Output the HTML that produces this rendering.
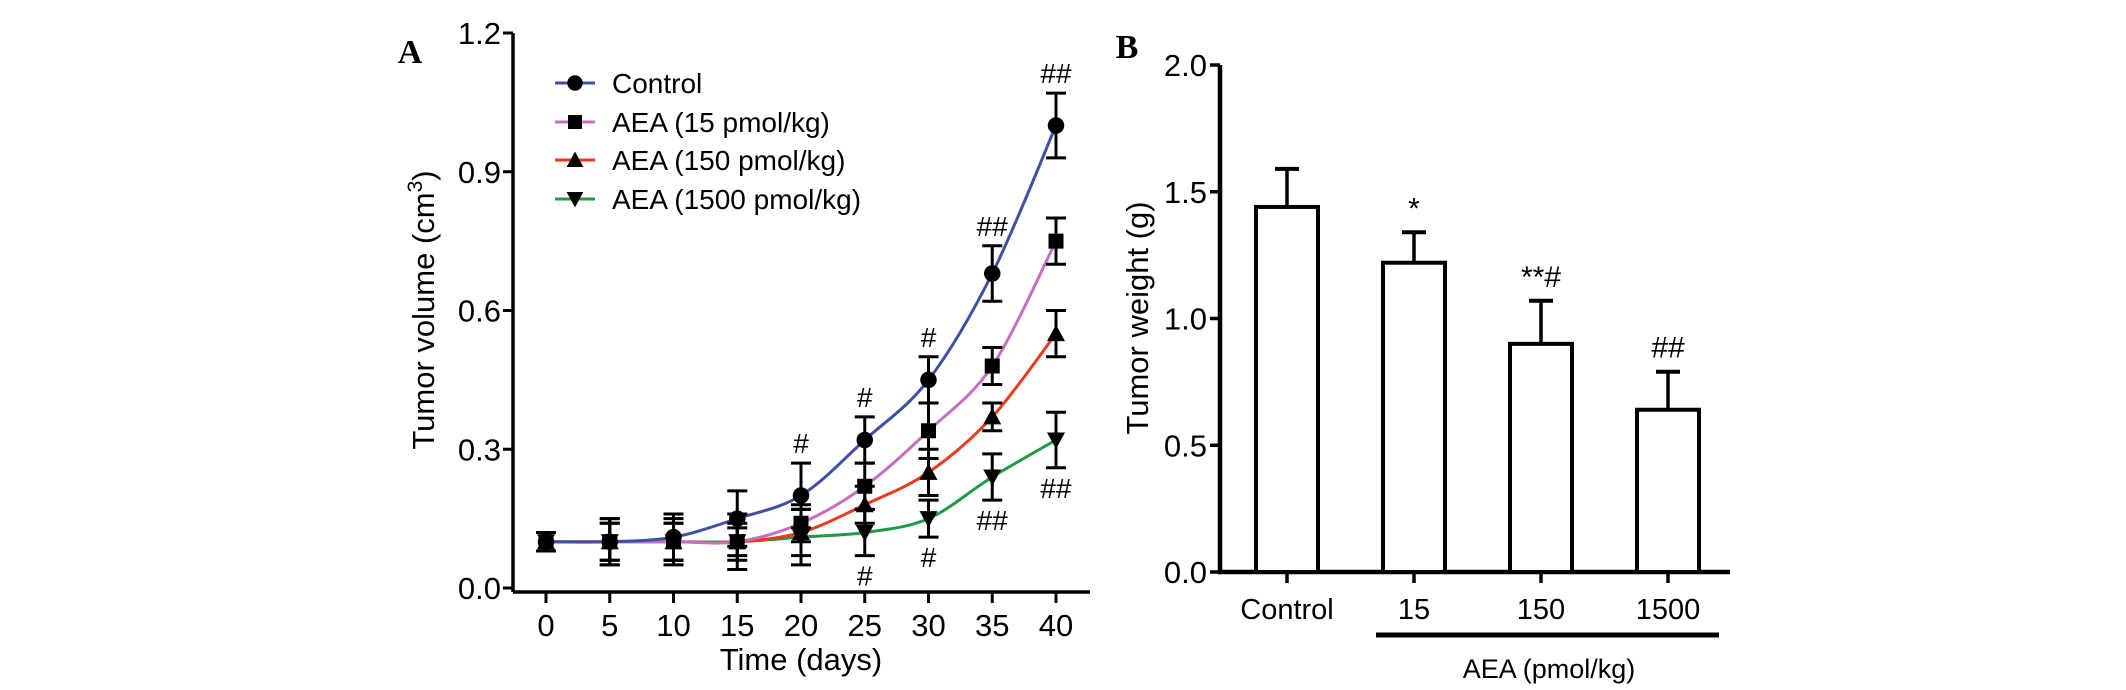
<!DOCTYPE html>
<html><head><meta charset="utf-8"><style>
html,body{margin:0;padding:0;background:#fff;}
svg{display:block;font-family:"Liberation Sans",Arial,sans-serif;}
</style></head><body>
<svg id="fig" width="2126" height="690" viewBox="0 0 2126 690" xmlns="http://www.w3.org/2000/svg">
<g id="panelA"></g>
<g id="panelB"></g>
</svg>
<script>
const days = [0,5,10,15,20,25,30,35,40];
const seriesNames = ["Control","AEA (15 pmol/kg)","AEA (150 pmol/kg)","AEA (1500 pmol/kg)"];
const controlVals = [0.10,0.10,0.11,0.15,0.20,0.32,0.45,0.68,1.00];
const controlErr  = [0.02,0.05,0.05,0.06,0.07,0.05,0.05,0.06,0.07];
const aea15Vals   = [0.10,0.10,0.10,0.10,0.14,0.22,0.34,0.48,0.75];
const aea15Err    = [0.02,0.04,0.05,0.03,0.04,0.05,0.06,0.04,0.05];
const aea150Vals  = [0.10,0.10,0.10,0.10,0.12,0.18,0.25,0.37,0.55];
const aea150Err   = [0.02,0.05,0.04,0.04,0.05,0.04,0.05,0.03,0.05];
const aea1500Vals = [0.10,0.10,0.10,0.10,0.11,0.12,0.15,0.24,0.32];
const aea1500Err  = [0.02,0.04,0.04,0.06,0.06,0.05,0.04,0.05,0.06];
const yTicksA = [0.0,0.3,0.6,0.9,1.2];
const yTickLabelsA = ["0.0","0.3","0.6","0.9","1.2"];
const xTicksA = [0,5,10,15,20,25,30,35,40];
const annotAboveDays = [20,25,30,35,40];
const annotAboveText = ["#","#","#","##","##"];
const annotBelowDays = [25,30,35,40];
const annotBelowText = ["#","#","##","##"];

const barCats = ["Control","15","150","1500"];
const barVals = [1.44,1.22,0.90,0.64];
const barErr  = [0.15,0.12,0.17,0.15];
const barAnnot = ["","*","**#","##"];
const yTicksB = [0.0,0.5,1.0,1.5,2.0];
const yTickLabelsB = ["0.0","0.5","1.0","1.5","2.0"];

const NS="http://www.w3.org/2000/svg";
function mk(parent,tag,attrs,text){const e=document.createElementNS(NS,tag);for(const k in attrs)e.setAttribute(k,attrs[k]);if(text!==undefined)e.textContent=text;parent.appendChild(e);return e;}

// ---------- Panel A ----------
const A=document.getElementById('panelA');
const xA=d=>546+(1056-546)*d/40;
const yA=v=>588-(588-33)*v/1.2;
let t;
t=mk(A,'text',{x:410,y:63,'font-family':'Liberation Serif,serif','font-weight':'bold','font-size':34,'text-anchor':'middle'},'A');

let ax=mk(A,'path',{d:`M513 ${yA(1.2)} V592 M513 592 H1090`,stroke:'#000','stroke-width':3.5,fill:'none'});

yTicksA.forEach((v,i)=>{
  mk(A,'line',{x1:503,x2:513,y1:yA(v),y2:yA(v),stroke:'#000','stroke-width':3});
  t=mk(A,'text',{x:501,y:yA(v)+11,'font-size':31,'text-anchor':'end'},yTickLabelsA[i]);
  
});
xTicksA.forEach(d=>{
  mk(A,'line',{x1:xA(d),x2:xA(d),y1:592,y2:603,stroke:'#000','stroke-width':3});
  t=mk(A,'text',{x:xA(d),y:636,'font-size':31,'text-anchor':'middle'},String(d));
  
});
t=mk(A,'text',{x:801,y:670,'font-size':31,'text-anchor':'middle'},'Time (days)');

t=mk(A,'text',{x:0,y:0,'font-size':31,'text-anchor':'middle',transform:`translate(434 310) rotate(-90)`});

t.innerHTML='Tumor volume (cm<tspan dy="-12" font-size="21">3</tspan><tspan dy="12">)</tspan>';

const colors=["#3d50a3","#c46fc0","#ec3a1f","#1f9a48"];
const shapes=["circle","square","triangle","tri-down"];
const valsAll=[controlVals,aea15Vals,aea150Vals,aea1500Vals];
const errAll=[controlErr,aea15Err,aea150Err,aea1500Err];
function marker(g,shape,x,y,s){
  if(shape==="circle")return mk(g,'circle',{cx:x,cy:y,r:s*0.55,fill:'#000'});
  if(shape==="square")return mk(g,'rect',{x:x-s/2,y:y-s/2,width:s,height:s,fill:'#000'});
  if(shape==="triangle")return mk(g,'polygon',{points:`${x},${y-s*0.6} ${x-s*0.6},${y+s*0.5} ${x+s*0.6},${y+s*0.5}`,fill:'#000'});
  return mk(g,'polygon',{points:`${x},${y+s*0.6} ${x-s*0.6},${y-s*0.5} ${x+s*0.6},${y-s*0.5}`,fill:'#000'});
}
function smooth(pts){
  let d=`M${pts[0][0]} ${pts[0][1]}`;
  for(let i=0;i<pts.length-1;i++){
    const p0=pts[Math.max(0,i-1)],p1=pts[i],p2=pts[i+1],p3=pts[Math.min(pts.length-1,i+2)];
    const c1=[p1[0]+(p2[0]-p0[0])/6,p1[1]+(p2[1]-p0[1])/6];
    const c2=[p2[0]-(p3[0]-p1[0])/6,p2[1]-(p3[1]-p1[1])/6];
    d+=` C${c1[0]} ${c1[1]} ${c2[0]} ${c2[1]} ${p2[0]} ${p2[1]}`;
  }
  return d;
}
// lines first
[3,2,1,0].forEach(si=>{
  const pts=days.map((d,i)=>[xA(d),yA(valsAll[si][i])]);
  const p=mk(A,'path',{d:smooth(pts),stroke:colors[si],'stroke-width':3,fill:'none'});
  
  
});
[3,2,1,0].forEach(si=>{
  const g=mk(A,'g',{});
  
  
  days.forEach((d,i)=>{
    const x=xA(d),v=valsAll[si][i],e=errAll[si][i];
    mk(g,'path',{d:`M${x} ${yA(v+e)} V${yA(v-e)} M${x-10} ${yA(v+e)} H${x+10} M${x-10} ${yA(v-e)} H${x+10}`,stroke:'#000','stroke-width':3,fill:'none'});
    marker(g,shapes[si],x,yA(v),15);
  });
});
annotAboveDays.forEach((d,i)=>{
  const idx=days.indexOf(d);
  t=mk(A,'text',{x:xA(d),y:yA(controlVals[idx]+controlErr[idx])-10,'font-size':28,'text-anchor':'middle'},annotAboveText[i]);
  
});
annotBelowDays.forEach((d,i)=>{
  const idx=days.indexOf(d);
  t=mk(A,'text',{x:xA(d),y:yA(aea1500Vals[idx]-aea1500Err[idx])+30,'font-size':28,'text-anchor':'middle'},annotBelowText[i]);
  
});
// legend
const legY=[83,122,160,199];
seriesNames.forEach((n,i)=>{
  const g=mk(A,'g',{});
  
  
  mk(g,'line',{x1:555,x2:595,y1:legY[i],y2:legY[i],stroke:colors[i],'stroke-width':3});
  marker(g,shapes[i],575,legY[i],14);
  mk(g,'text',{x:612,y:legY[i]+10,'font-size':28},n);
});

// ---------- Panel B ----------
const B=document.getElementById('panelB');
const yB=v=>572-(572-65)*v/2.0;
const xB=i=>1287+127*i;
t=mk(B,'text',{x:1127,y:58,'font-family':'Liberation Serif,serif','font-weight':'bold','font-size':34,'text-anchor':'middle'},'B');

ax=mk(B,'path',{d:`M1220 ${yB(2)} V572 M1218 572 H1730`,stroke:'#000','stroke-width':4.5,fill:'none'});

yTicksB.forEach((v,i)=>{
  mk(B,'line',{x1:1210,x2:1220,y1:yB(v),y2:yB(v),stroke:'#000','stroke-width':3.5});
  t=mk(B,'text',{x:1207,y:yB(v)+11,'font-size':31,'text-anchor':'end'},yTickLabelsB[i]);
  
});
t=mk(B,'text',{x:0,y:0,'font-size':31,'text-anchor':'middle',transform:`translate(1148 318) rotate(-90)`},'Tumor weight (g)');

barCats.forEach((c,i)=>{
  const x=xB(i),v=barVals[i],e=barErr[i];
  mk(B,'line',{x1:x,x2:x,y1:yB(v),y2:yB(v+e),stroke:'#000','stroke-width':3.5});
  mk(B,'line',{x1:x-12,x2:x+12,y1:yB(v+e),y2:yB(v+e),stroke:'#000','stroke-width':4});
  const r=mk(B,'rect',{x:x-31,y:yB(v),width:62,height:572-yB(v),fill:'#fff',stroke:'#000','stroke-width':4});
  
  
  mk(B,'line',{x1:x,x2:x,y1:572,y2:583,stroke:'#000','stroke-width':3.5});
  t=mk(B,'text',{x:x,y:619,'font-size':29,'text-anchor':'middle'},c);
  
  if(barAnnot[i]){
    t=mk(B,'text',{x:x,y:yB(v+e)-14,'font-size':30,'text-anchor':'middle'},barAnnot[i]);
    
  }
});
let br=mk(B,'line',{x1:1376,x2:1719,y1:635,y2:635,stroke:'#000','stroke-width':5});

t=mk(B,'text',{x:1549,y:678,'font-size':27,'text-anchor':'middle'},'AEA (pmol/kg)');

</script>
</body></html>
